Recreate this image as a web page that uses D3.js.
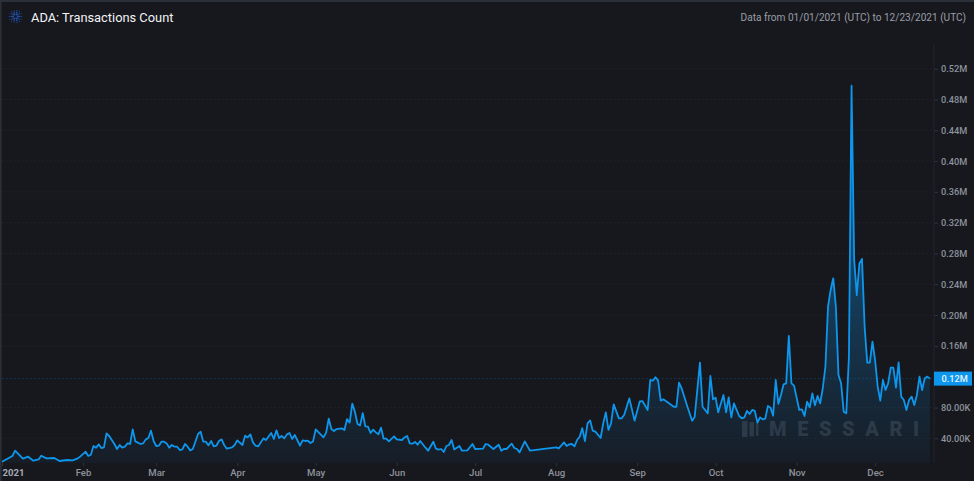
<!DOCTYPE html>
<html><head><meta charset="utf-8">
<script src="https://cdn.jsdelivr.net/npm/d3@7"></script>
<style>
html,body{margin:0;padding:0;background:#17181e;overflow:hidden}
svg{display:block}
text{font-family:Roboto,sans-serif}
</style></head><body><svg id="c" width="974" height="481"></svg>
<script>
const chartTitle = "ADA: Transactions Count";
const rangeNote = "Data from 01/01/2021 (UTC) to 12/23/2021 (UTC)";
const watermark = "MESSARI";
const yTicksK = [40,80,160,200,240,280,320,360,400,440,480,520];
const lastLabel = "0.12M";
// day index counted from 2021-01-01
const days = [0,4,5,8,10,12,14,15,17,20,22,25,27,29,30,32,33,34,35,36,37,38,39,40,41,43,44,45,46,47,48,49,50,51,53,54,55,56,57,58,59,60,61,62,63,64,65,66,67,68,69,70,71,72,73,75,76,77,78,79,80,81,82,83,84,85,86,88,89,90,92,93,94,95,96,97,98,100,101,103,104,105,106,107,108,109,110,111,112,114,115,116,117,118,119,120,123,124,
125,126,127,128,130,131,132,133,134,135,136,137,138,139,140,141,142,143,144,145,146,147,148,150,151,153,154,155,156,157,158,159,160,162,163,165,166,167,168,169,170,171,172,173,175,176,178,180,181,184,185,186,188,190,191,192,193,195,196,197,198,200,202,212,213,215,216,217,218,219,220,221,222,223,224,225,226,227,229,230,231,232,233,234,236,237,238,240,242,244,245,247,
248,249,250,251,252,253,257,258,259,260,262,264,265,267,268,270,271,272,273,274,276,277,278,279,280,282,283,284,285,286,287,288,289,290,291,292,293,294,295,296,297,298,299,300,301,302,303,305,306,307,308,309,310,311,312,313,314,315,316,317,318,319,320,321,322,323,324,325,326,327,328,329,330,331,332,333,334,335,336,337,338,339,340,341,342,343,344,345,346,347,348,349,350,351,352,353,354,355];
// transactions, thousands
const txK = [9.6,17,23.9,13.5,16.1,10.9,12.6,17.4,13.9,14.4,10.5,11.8,11.4,13.9,16.5,22.6,17,18.7,30,27.8,32.1,27.4,28.2,46.4,43,32.6,26.1,31.3,27.8,29.1,33.4,32.6,51.6,36,32.6,33.4,38.6,40.4,49.9,36.5,30,30.4,35.6,35.6,33.4,27.8,31.3,29.1,29.1,24.8,25.6,32.6,29.1,24.3,26.1,45.6,48.6,35.6,35.6,30.8,36.5,29.5,30.4,36.5,38.6,31.3,26.5,28.2,31.3,37.3,31.3,43.4,41.2,45.1,34.7,30.4,29.5,39.9,37.8,46.9,39.1,50.3,40.4,43,39.9,45.1,46.9,39.1,44.3,30.4,37.3,36.5,36.9,33.9,36,51.6,41.2,47.3,
65.5,52,49.4,52,52.9,50.8,65,60.3,85,74.6,58.5,56.8,72.8,55.5,55.1,46.9,51.2,47.7,45.1,53.8,39.5,39.5,36,42.5,38.6,37.8,41.2,43,33.4,33,35.2,31.7,36.5,27.8,23.9,35.6,26.5,25.2,26.1,22.2,30,31.3,37.8,25.6,30,23.9,24.3,32.6,26.1,26.5,32.6,31.7,26.1,31.7,23.9,26.1,26.1,33,27.4,26.1,21.7,36,23.9,28.2,26.9,34.7,30,32.1,32.6,29.5,37.8,42.1,53.3,36.5,59.4,63.3,49.9,48.6,40.4,59.4,73.7,50.8,59.4,84.1,65.9,65.9,70.2,91.9,62.9,88,88.4,76.7,
115.7,114.9,119.2,114.9,88.9,90.6,81,81,112.3,104.9,83.3,62.9,68.1,138.3,81,72.4,120.9,90.6,92.8,73.7,96.2,73.7,93,67.2,85.4,69,66,67.2,75.5,71.6,76.8,75.5,60.3,67.2,64.7,65.5,82,79.8,69.4,115.7,84.6,96.3,110.1,111.4,172.9,111.4,108.4,76.8,77.6,69,87.6,80.2,98.4,82.8,95,85.4,105,133,211,232.6,247.8,211,122.2,111.4,74.6,72.4,146,498,272,226,267,273,185,138.3,138.3,165.5,141.7,107,88.9,115.7,102.7,111.4,131.8,131.8,105.8,138.7,94.1,89.8,76.8,89.8,94.1,83.3,96.3,120.1,102.7,117.9,120.1,117.5];

const W=974,H=481,bottom=463,axisX=934;
const svg=d3.select("#c");
const start=new Date(Date.UTC(2021,0,1));
const toDate=d=>new Date(Date.UTC(2021,0,1+d));
const x=d3.scaleUtc().domain([start,toDate(356)]).range([2,2+356*2.614]);
const y=d3.scaleLinear().domain([0,520]).range([469.1,68.7]);
const data=days.map((d,i)=>({date:toDate(d),v:txK[i]}));
const blue="#0e96ec";

svg.append("rect").attr("width",W).attr("height",H).attr("fill","#17181e");
svg.append("rect").attr("width",W).attr("height",2).attr("fill","#2c3139");
svg.append("rect").attr("width",1.5).attr("height",H).attr("fill","#2c3139");

const defs=svg.append("defs");
const g=defs.append("linearGradient").attr("id","fill").attr("gradientUnits","userSpaceOnUse")
  .attr("x1",0).attr("x2",0).attr("y1",86).attr("y2",bottom);
g.append("stop").attr("offset",0).attr("stop-color",blue).attr("stop-opacity",.62);
g.append("stop").attr("offset",.7).attr("stop-color",blue).attr("stop-opacity",.2);
g.append("stop").attr("offset",1).attr("stop-color",blue).attr("stop-opacity",.04);

// grid
svg.append("g").selectAll("line").data(yTicksK).join("line")
  .attr("x1",2).attr("x2",axisX).attr("y1",d=>y(d)).attr("y2",d=>y(d))
  .attr("stroke","#22252c").attr("stroke-width",1).attr("stroke-dasharray","1.5 2.5");

// area & watermark & line
svg.append("path").datum(data).attr("fill","url(#fill)")
  .attr("d",d3.area().x(d=>x(d.date)).y0(bottom).y1(d=>y(d.v)));

const wm=svg.append("g").attr("fill","#8fa3b8").attr("opacity",.18);
[[742,7],[749.5,6],[756,4]].forEach(([bx,bw],i)=>{
  wm.append("rect").attr("x",bx).attr("y",421+i).attr("width",bw-1.5).attr("height",16-i*1.5);
});
wm.append("text").attr("x",769).attr("y",436).attr("font-size",20).attr("font-weight",900)
  .attr("letter-spacing",10.6).attr("font-family","Lato,sans-serif").text(watermark);

svg.append("path").datum(data).attr("fill","none").attr("stroke",blue).attr("stroke-width",1.8)
  .attr("stroke-linejoin","round")
  .attr("d",d3.line().x(d=>x(d.date)).y(d=>y(d.v)));

// last value line
const lastV=txK[txK.length-1];
svg.append("line").attr("x1",2).attr("x2",axisX).attr("y1",y(lastV)).attr("y2",y(lastV))
  .attr("stroke",blue).attr("stroke-opacity",.3).attr("stroke-dasharray","1.5 2.5");

// y axis
const fmt=d=>d<100?d3.format(".2f")(d)+"K":d3.format(".2f")(d/1000)+"M";
const yAxis=svg.append("g").attr("transform",`translate(${axisX},0)`)
  .call(d3.axisRight(y).tickValues(yTicksK).tickSize(4).tickPadding(3).tickFormat(fmt));
yAxis.select(".domain").remove();
yAxis.selectAll("line").attr("stroke","#2f333b");
yAxis.selectAll("text").attr("fill","#8e929b").attr("font-size",9.2).attr("font-weight",500);
svg.append("line").attr("x1",axisX).attr("x2",axisX).attr("y1",44).attr("y2",bottom).attr("stroke","#22252c");

// last badge
svg.append("rect").attr("x",axisX).attr("y",y(lastV)-7).attr("width",38).attr("height",14).attr("fill",blue);
svg.append("text").attr("x",941.5).attr("y",y(lastV)).attr("dy",".36em").attr("fill","#e8f4fd")
  .attr("font-size",9.2).attr("font-weight",500).text(lastLabel);

// x axis
const months=d3.utcMonths(start,new Date(Date.UTC(2021,11,2)));
const xAxis=svg.append("g").attr("transform",`translate(0,${bottom})`)
  .call(d3.axisBottom(x).tickValues(months).tickSize(3).tickPadding(3)
    .tickFormat(d=>d.getUTCMonth()===0?"2021":d3.utcFormat("%b")(d)));
xAxis.select(".domain").remove();
xAxis.selectAll("line").attr("stroke","#2f333b");
xAxis.selectAll("text").attr("fill","#8e929b").attr("font-size",9.6).attr("font-weight",500);
xAxis.selectAll("text").filter(d=>d.getUTCMonth()===0).attr("text-anchor","start").attr("fill","#a6aab2").attr("font-weight",700);

// header
const icon=svg.append("g").attr("transform","translate(15.5,16.5)");
[[2.4,6,1.1],[4.3,10,.8],[6.2,14,.55]].forEach(([r,n,s])=>{
  d3.range(n).forEach(i=>{
    const a=i/n*2*Math.PI;
    icon.append("circle").attr("cx",r*Math.cos(a)).attr("cy",r*Math.sin(a)).attr("r",s).attr("fill","#2350b0");
  });
});
svg.append("text").attr("x",31).attr("y",21.5).attr("fill","#f2f3f5").attr("font-size",12.85)
  .attr("font-family","Lato,sans-serif").text(chartTitle);
svg.append("text").attr("x",966).attr("y",21).attr("text-anchor","end").attr("fill","#9a9ea6").attr("font-size",10.1)
  .attr("font-family","Lato,sans-serif").text(rangeNote);
</script></body></html>
